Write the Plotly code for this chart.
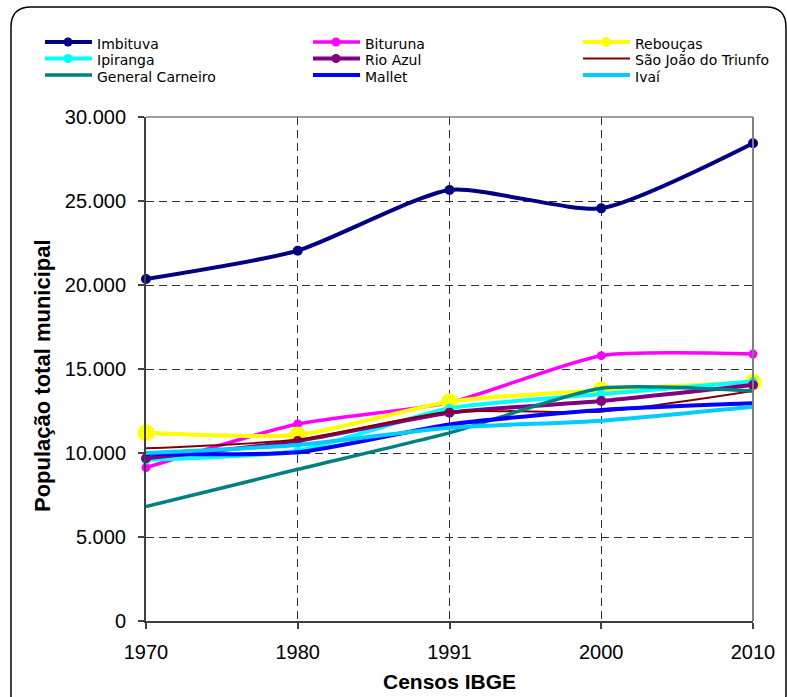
import plotly.graph_objects as go

# Census years (categorical, evenly spaced on the axis)
years = ["1970", "1980", "1991", "2000", "2010"]

# Municipal population per census
imbituva = [20357, 22044, 25655, 24563, 28433]
biturina = [9127, 11726, 13000, 15794, 15893]
reboucas = [11208, 11071, 13054, 13750, 14206]
ipiranga = [9583, 10139, 12659, 13512, 14250]
rio_azul = [9683, 10714, 12401, 13095, 14048]
sao_joao = [10278, 10800, 12460, 12460, 13690]
general_carneiro = [6806, 9030, 11200, 13850, 13690]
mallet = [9950, 10040, 11700, 12560, 12956]
ivai = [10000, 10476, 11500, 11925, 12758]

y_ticks = [0, 5000, 10000, 15000, 20000, 25000, 30000]

# name, values, colour, line width, marker size (0 = no marker)
series = [
    ("Imbituva", imbituva, "#000080", 4, 10),
    ("Bituruna", biturina, "#FF00FF", 3.5, 9),
    ("Rebouças", reboucas, "#FFFF00", 4, 17),
    ("Ipiranga", ipiranga, "#00FFFF", 4, 9),
    ("Rio Azul", rio_azul, "#800080", 4, 10),
    ("São João do Triunfo", sao_joao, "#800000", 2, 0),
    ("General Carneiro", general_carneiro, "#008080", 3.5, 0),
    ("Mallet", mallet, "#0000FF", 4, 0),
    ("Ivaí", ivai, "#00CCFF", 4, 0),
]

W, H = 787, 697


def px(x):
    return x / W


def py(y):
    return 1 - y / H


fig = go.Figure()
for name, vals, color, lw, ms in series:
    fig.add_trace(go.Scatter(
        x=years, y=vals, name=name,
        mode="lines+markers" if ms else "lines",
        line=dict(color=color, width=lw, shape="spline", smoothing=0.6),
        marker=dict(size=ms, color=color) if ms else None,
        cliponaxis=False, showlegend=False,
    ))

shapes = []
annotations = []

# Legend block: three columns, three rows
col_x = [45, 313, 583]
row_y = [42, 58.5, 75]
for i, (name, vals, color, lw, ms) in enumerate(series):
    r, c = divmod(i, 3)
    x0 = col_x[c]
    y0 = row_y[r]
    shapes.append(dict(type="line", xref="paper", yref="paper",
                       x0=px(x0), x1=px(x0 + 47), y0=py(y0), y1=py(y0),
                       line=dict(color=color, width=lw)))
    if ms:
        d = 9 if ms < 12 else 10
        shapes.append(dict(type="circle", xref="paper", yref="paper",
                           xsizemode="pixel", ysizemode="pixel",
                           xanchor=px(x0 + 23), yanchor=py(y0),
                           x0=-d / 2, x1=d / 2, y0=-d / 2, y1=d / 2,
                           fillcolor=color, line=dict(width=0)))
    annotations.append(dict(text=name, xref="paper", yref="paper",
                            x=px(x0 + 50), y=py(y0 + 2),
                            xanchor="left", yanchor="middle", showarrow=False,
                            font=dict(family="DejaVu Sans", size=14, color="#000000")))

# Plot area borders (top and right)
shapes.append(dict(type="line", xref="x domain", yref="y domain",
                   x0=0, x1=1, y0=1, y1=1, line=dict(color="#808080", width=1.5)))
shapes.append(dict(type="line", xref="x domain", yref="y domain",
                   x0=1, x1=1, y0=0, y1=1, line=dict(color="#808080", width=2)))

# Rounded outer frame (runs past the lower edge of the page)
fx0, fy0, fx1, fy1, rr = 11, 7, 786, 714, 20
path = (f"M {px(fx0)},{py(fy1)} L {px(fx0)},{py(fy0 + rr)} "
        f"Q {px(fx0)},{py(fy0)} {px(fx0 + rr)},{py(fy0)} "
        f"L {px(fx1 - rr)},{py(fy0)} Q {px(fx1)},{py(fy0)} {px(fx1)},{py(fy0 + rr)} "
        f"L {px(fx1)},{py(fy1 - rr)} Q {px(fx1)},{py(fy1)} {px(fx1 - rr)},{py(fy1)} Z")
shapes.append(dict(type="path", xref="paper", yref="paper", path=path,
                   line=dict(color="#000000", width=1.5), layer="above"))

# Axis titles
annotations.append(dict(text="<b>Censos IBGE</b>", xref="paper", yref="paper",
                        x=px(449), y=py(681), xanchor="center", yanchor="middle",
                        showarrow=False,
                        font=dict(family="Liberation Sans", size=21, color="#000000")))
annotations.append(dict(text="<b>População total municipal</b>", xref="paper", yref="paper",
                        x=px(42), y=py(376), xanchor="center", yanchor="middle",
                        textangle=-90, showarrow=False,
                        font=dict(family="Liberation Sans", size=22, color="#000000")))

axis_common = dict(
    showline=True, linecolor="#404040", linewidth=2,
    ticks="outside", ticklen=6, tickcolor="#404040", tickwidth=1.5,
    showgrid=True, gridcolor="#303030", gridwidth=1, griddash="8px,5px",
    zeroline=False, tickfont=dict(size=20, family="Liberation Sans", color="#000000"),
    automargin=False,
)

fig.update_layout(
    width=W, height=H, autosize=False,
    margin=dict(l=0, r=0, t=0, b=0, pad=0),
    paper_bgcolor="white", plot_bgcolor="white",
    separators=",.",
    shapes=shapes, annotations=annotations,
    font=dict(family="Liberation Sans", color="#000000"),
    xaxis=dict(domain=[px(146), px(753)], type="category", range=[0, 4],
               ticklabelstandoff=6, **axis_common),
    yaxis=dict(domain=[py(621), py(117)], range=[0, 30000],
               tickvals=y_ticks, tickformat=",d",
               ticklabelstandoff=8, **axis_common),
)

fig.write_html("out.html")
